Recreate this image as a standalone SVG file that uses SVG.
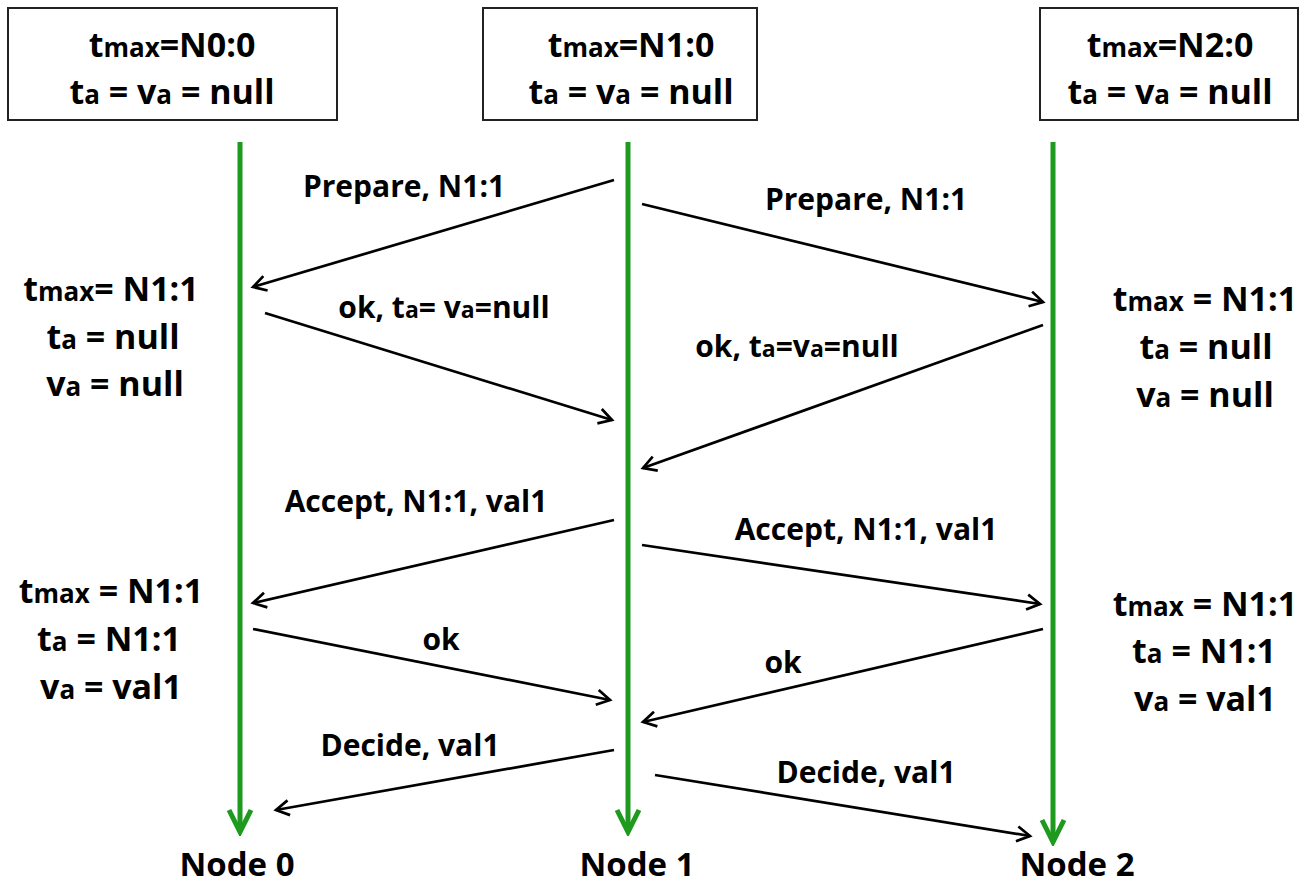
<svg xmlns="http://www.w3.org/2000/svg" width="1307" height="888" viewBox="0 0 1307 888">
<style>
text{font-family:"Open Sans","Liberation Sans",sans-serif;font-weight:bold;fill:#000;text-anchor:middle}
.big{font-size:34px}
.node{font-size:33px}
.lbl{font-size:30px}
.s{font-size:26px}
.sl{font-size:23px}
.box{fill:#fff;stroke:#222;stroke-width:2}
.life{stroke:#1e9a1e;stroke-width:5;fill:none}
.msg{stroke:#000;stroke-width:2.7;fill:none;marker-end:url(#ah)}
</style>
<defs>
<marker id="ah" markerUnits="userSpaceOnUse" markerWidth="18" markerHeight="18" refX="15" refY="9" orient="auto">
<path d="M2,1.5 L15,9 L2,16.5" fill="none" stroke="#000" stroke-width="2.7"/>
</marker>
<marker id="gh" markerUnits="userSpaceOnUse" markerWidth="30" markerHeight="30" refX="26" refY="14" orient="auto">
<path d="M4,3 L26,14 L4,25" fill="none" stroke="#1e9a1e" stroke-width="5"/>
</marker>
</defs>
<rect width="1307" height="888" fill="#fff"/>

<g id="node0">
<rect class="box" x="8" y="8" width="329" height="112"/>
<text class="big" x="172" y="57">t<tspan class="s">max</tspan>=N0:0</text>
<text class="big" x="172" y="104">t<tspan class="s">a</tspan> = v<tspan class="s">a</tspan> = null</text>
<line class="life" x1="240" y1="142" x2="240" y2="832" marker-end="url(#gh)"/>
<text class="node" x="237" y="876">Node 0</text>
</g>

<g id="node1">
<rect class="box" x="483" y="8" width="274" height="112"/>
<text class="big" x="631" y="57">t<tspan class="s">max</tspan>=N1:0</text>
<text class="big" x="631" y="104">t<tspan class="s">a</tspan> = v<tspan class="s">a</tspan> = null</text>
<line class="life" x1="628" y1="142" x2="628" y2="832" marker-end="url(#gh)"/>
<text class="node" x="637" y="876">Node 1</text>
</g>

<g id="node2">
<rect class="box" x="1040" y="8" width="258" height="112"/>
<text class="big" x="1170" y="57">t<tspan class="s">max</tspan>=N2:0</text>
<text class="big" x="1170" y="104">t<tspan class="s">a</tspan> = v<tspan class="s">a</tspan> = null</text>
<line class="life" x1="1053" y1="142" x2="1053" y2="842" marker-end="url(#gh)"/>
<text class="node" x="1077" y="876">Node 2</text>
</g>

<g id="state-node0-1">
<text class="big" x="111" y="301">t<tspan class="s">max</tspan>= N1:1</text>
<text class="big" x="113" y="349">t<tspan class="s">a</tspan> = null</text>
<text class="big" x="115" y="396">v<tspan class="s">a</tspan> = null</text>
</g>
<g id="state-node2-1">
<text class="big" x="1205" y="311">t<tspan class="s">max</tspan> = N1:1</text>
<text class="big" x="1206" y="359">t<tspan class="s">a</tspan> = null</text>
<text class="big" x="1205" y="407">v<tspan class="s">a</tspan> = null</text>
</g>
<g id="state-node0-2">
<text class="big" x="111" y="603">t<tspan class="s">max</tspan> = N1:1</text>
<text class="big" x="109" y="651">t<tspan class="s">a</tspan> = N1:1</text>
<text class="big" x="111" y="699">v<tspan class="s">a</tspan> = val1</text>
</g>
<g id="state-node2-2">
<text class="big" x="1205" y="616">t<tspan class="s">max</tspan> = N1:1</text>
<text class="big" x="1204" y="663">t<tspan class="s">a</tspan> = N1:1</text>
<text class="big" x="1205" y="711">v<tspan class="s">a</tspan> = val1</text>
</g>

<g id="connectors">
<line class="msg" x1="614" y1="180" x2="253" y2="287"/>
<line class="msg" x1="642" y1="204" x2="1043" y2="302"/>
<line class="msg" x1="265" y1="313" x2="612" y2="420"/>
<line class="msg" x1="1043" y1="325" x2="643" y2="468"/>
<line class="msg" x1="614" y1="520" x2="253" y2="603"/>
<line class="msg" x1="642" y1="545" x2="1040" y2="604"/>
<line class="msg" x1="253" y1="629" x2="610" y2="700"/>
<line class="msg" x1="1043" y1="629" x2="643" y2="722"/>
<line class="msg" x1="614" y1="750" x2="276" y2="810"/>
<line class="msg" x1="655" y1="775" x2="1030" y2="836"/>
<text class="lbl" x="404" y="197">Prepare, N1:1</text>
<text class="lbl" x="866" y="210">Prepare, N1:1</text>
<text class="lbl" x="444" y="318">ok, t<tspan class="sl">a</tspan>= v<tspan class="sl">a</tspan>=null</text>
<text class="lbl" x="797" y="357">ok, t<tspan class="sl">a</tspan>=v<tspan class="sl">a</tspan>=null</text>
<text class="lbl" x="416" y="512">Accept, N1:1, val1</text>
<text class="lbl" x="866" y="540">Accept, N1:1, val1</text>
<text class="lbl" x="441" y="650">ok</text>
<text class="lbl" x="783" y="673">ok</text>
<text class="lbl" x="410" y="756">Decide, val1</text>
<text class="lbl" x="866" y="783">Decide, val1</text>
</g>
</svg>
